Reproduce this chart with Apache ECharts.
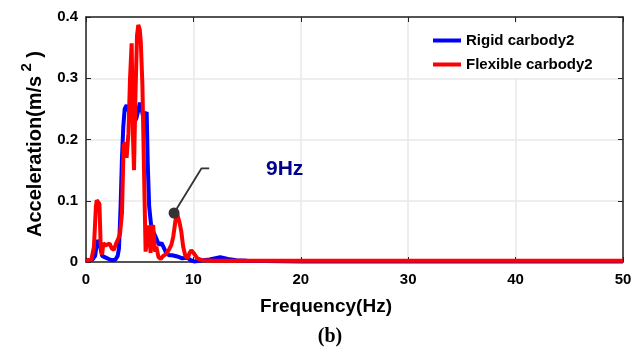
<!DOCTYPE html>
<html>
<head>
<meta charset="utf-8">
<script src="https://cdn.jsdelivr.net/npm/echarts@6/dist/echarts.min.js"></script>
<style>html,body{margin:0;padding:0;background:#fff}#c{width:641px;height:352px}</style>
</head>
<body>
<div id="c"></div>
<script>
// Rigid carbody2 spectrum
const rigidFreq = [0,0.6,0.85,1.05,1.2,1.36,1.5,1.67,1.98,2.2,2.45,2.75,2.95,3.07,3.22,3.35,3.47,3.6,3.78,3.93,4.1,4.3,4.5,4.7,4.9,5.02,5.17,5.35,5.5,5.65,5.75,5.88,6.05,6.25,6.48,6.79,7.03,7.2,7.41,7.72,8.03,8.5,8.96,9.43,9.74,10.05,10.6,11.5,12.5,13.2,14,15,20,30,40,50];
const rigidAcc  = [0.002,0.004,0.01,0.036,0.03,0.022,0.01,0.009,0.006,0.004,0.003,0.004,0.01,0.022,0.09,0.17,0.22,0.25,0.256,0.257,0.24,0.232,0.228,0.235,0.25,0.26,0.25,0.235,0.24,0.245,0.16,0.091,0.062,0.05,0.041,0.028,0.031,0.025,0.017,0.011,0.011,0.009,0.006,0.007,0.003,0.001,0.002,0.004,0.008,0.005,0.003,0.002,0.001,0.001,0.001,0.001];
// Flexible carbody2 spectrum
const flexFreq = [0,0.5,0.74,0.92,1.0,1.15,1.25,1.36,1.5,1.62,1.8,1.98,2.2,2.4,2.6,2.8,3.0,3.16,3.35,3.5,3.62,3.78,3.95,4.1,4.25,4.38,4.47,4.6,4.75,4.87,5.0,5.1,5.25,5.4,5.55,5.7,5.86,6.01,6.15,6.25,6.42,6.55,6.75,6.95,7.2,7.45,7.72,7.95,8.12,8.35,8.5,8.7,8.87,9.05,9.25,9.45,9.65,9.8,10.05,10.36,10.8,12,15,20,25,30,35,40,45,50];
const flexAcc  = [0.002,0.004,0.025,0.09,0.101,0.102,0.095,0.03,0.012,0.031,0.027,0.025,0.03,0.022,0.02,0.03,0.038,0.045,0.08,0.19,0.195,0.17,0.21,0.3,0.357,0.2,0.15,0.27,0.37,0.387,0.38,0.36,0.29,0.15,0.017,0.04,0.06,0.015,0.055,0.06,0.017,0.025,0.008,0.005,0.01,0.013,0.02,0.028,0.041,0.07,0.078,0.065,0.05,0.025,0.01,0.006,0.015,0.019,0.014,0.006,0.003,0.002,0.002,0.002,0.002,0.002,0.002,0.002,0.002,0.002];
// Annotation (data coordinates)
const noteLineX = [8.2, 10.76, 11.47];
const noteLineY = [0.08, 0.153, 0.153];
const noteText = '9Hz';
const noteTextPos = [18.5, 0.151];
const xTicks = [0,10,20,30,40,50];
const yTicks = [0,0.1,0.2,0.3,0.4];

const zip = (a,b)=>a.map((v,i)=>[v,b[i]]);
const chart = echarts.init(document.getElementById('c'), null, {renderer:'canvas'});
const axisCol = '#222';
const FF = 'Liberation Sans, Arial, sans-serif';
const tickFont = {color:'#000', fontWeight:'bold', fontSize:15, fontFamily:FF};
chart.setOption({
  animation:false,
  grid:{left:86, right:18, top:17, bottom:90},
  legend:{
    orient:'vertical', left:421, top:23,
    padding:[10,14,6,12], itemGap:9,
    backgroundColor:'#fff', icon:'rect', itemWidth:28, itemHeight:4,
    textStyle:{color:'#000', fontWeight:'bold', fontSize:15, fontFamily:FF},
    data:['Rigid carbody2','Flexible carbody2']
  },
  xAxis:[{
    type:'value', min:xTicks[0], max:xTicks[xTicks.length-1], interval:10,
    axisLine:{lineStyle:{color:axisCol, width:1.5}},
    axisTick:{inside:true, length:5, lineStyle:{color:axisCol}},
    axisLabel:Object.assign({margin:10}, tickFont),
    splitLine:{show:true, lineStyle:{color:'#e8e8e8', width:1.5}}
  },{
    type:'value', position:'top', min:0, max:50, interval:10,
    axisLine:{show:true, onZero:false, lineStyle:{color:axisCol, width:1.5}},
    axisTick:{inside:true, length:5, lineStyle:{color:axisCol}},
    axisLabel:{show:false}, splitLine:{show:false}
  }],
  yAxis:[{
    type:'value', min:yTicks[0], max:yTicks[yTicks.length-1], interval:0.1,
    axisLine:{show:true, lineStyle:{color:axisCol, width:1.5}},
    axisTick:{show:true, inside:true, length:5, lineStyle:{color:axisCol}},
    axisLabel:Object.assign({margin:8, formatter:v=>String(Math.round(v*10)/10)}, tickFont),
    splitLine:{show:true, lineStyle:{color:'#e8e8e8', width:1.5}}
  },{
    type:'value', position:'right', min:0, max:0.4, interval:0.1,
    axisLine:{show:true, onZero:false, lineStyle:{color:axisCol, width:1.5}},
    axisTick:{show:true, inside:true, length:5, lineStyle:{color:axisCol}},
    axisLabel:{show:false}, splitLine:{show:false}
  }],
  series:[
    {name:'Rigid carbody2', type:'line', data:zip(rigidFreq,rigidAcc), showSymbol:false, symbol:'none',
     lineStyle:{color:'#0000ff', width:4}, itemStyle:{color:'#0000ff'}, z:3},
    {name:'Flexible carbody2', type:'line', data:zip(flexFreq,flexAcc), showSymbol:false, symbol:'none',
     lineStyle:{color:'#ff0000', width:4}, itemStyle:{color:'#ff0000'}, z:4},
    {name:'note', type:'line', data:zip(noteLineX,noteLineY), symbol:'none',
     lineStyle:{color:'#333', width:1.8}, z:5, silent:true},
    {name:'dot', type:'scatter', data:[[noteLineX[0],noteLineY[0]]], symbolSize:11,
     itemStyle:{color:'#333', opacity:1}, z:6, silent:true},
    {name:'label', type:'scatter', data:[noteTextPos], symbolSize:0, z:6, silent:true,
     itemStyle:{opacity:1},
     label:{show:true, position:'inside', formatter:noteText, color:'#00008c', opacity:1, fontWeight:'bold', fontSize:21,
       fontFamily:FF}}
  ],
  graphic:[
    {type:'text', x:326, y:307, style:{text:'Frequency(Hz)', align:'center', verticalAlign:'middle',
      fill:'#000', font:'bold 19px "Liberation Sans", Arial, sans-serif'}},
    {type:'text', x:330, y:337, style:{text:'(b)', align:'center', verticalAlign:'middle',
      fill:'#000', font:'bold 20px "Liberation Serif", "Times New Roman", serif'}},
    {type:'text', x:32, y:144, rotation:Math.PI/2, style:{
      text:'{a|Acceleration(m/s}{s| 2}{a| )}', align:'center', verticalAlign:'middle', fill:'#000',
      rich:{
        a:{fontSize:20, fontWeight:'bold', fontFamily:FF, lineHeight:26, verticalAlign:'bottom', fill:'#000'},
        s:{fontSize:15, fontWeight:'bold', fontFamily:FF, lineHeight:26, verticalAlign:'top', fill:'#000'}
      }}}
  ]
});
</script>
</body>
</html>
